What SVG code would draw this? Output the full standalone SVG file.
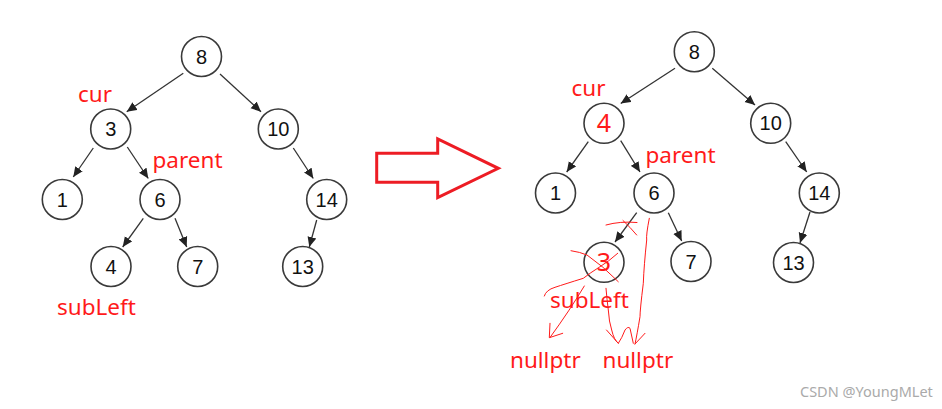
<svg xmlns="http://www.w3.org/2000/svg" width="942" height="409" viewBox="0 0 942 409">
<defs>
<marker id="ah" viewBox="0 0 10 10" refX="10" refY="5" markerWidth="10" markerHeight="10" markerUnits="userSpaceOnUse" orient="auto">
<path d="M0,0.5 L10,5 L0,9.5 z" fill="#222"/>
</marker>
</defs>
<style>
.n circle{fill:#fff;stroke:#3a3a3a;stroke-width:1.6}
.n text{font-family:"Liberation Sans",Arial,sans-serif;font-size:20px;fill:#111;text-anchor:middle}
.n text.r{fill:#ff1a1a;font-family:"Noto Sans",sans-serif;font-size:25px}
.e line{stroke:#333;stroke-width:1.3;marker-end:url(#ah)}
.lbl{font-family:"Noto Sans",sans-serif;font-size:22.5px;fill:#ff1a1a}
.hd{fill:none;stroke:#ff1a1a;stroke-width:1;stroke-linecap:round;stroke-linejoin:round}
</style>
<rect width="942" height="409" fill="#fff"/>
<g id="edges">
<g class="e">
<line x1="183.3" y1="73.3" x2="126.7" y2="111.7"/>
<line x1="220" y1="74" x2="261" y2="111.7"/>
<line x1="93.3" y1="148" x2="73.3" y2="177"/>
<line x1="127.3" y1="147" x2="148.3" y2="178.5"/>
<line x1="293.3" y1="148" x2="313.3" y2="178.5"/>
<line x1="143.3" y1="218.3" x2="122.7" y2="247"/>
<line x1="175" y1="218.3" x2="186.7" y2="247"/>
<line x1="316.7" y1="220" x2="309.3" y2="247"/>
<line x1="675" y1="68.3" x2="620.7" y2="103.5"/>
<line x1="712.3" y1="68.3" x2="755" y2="105"/>
<line x1="588.3" y1="141.7" x2="566.7" y2="172"/>
<line x1="620.7" y1="140.7" x2="640" y2="172"/>
<line x1="785.7" y1="141.7" x2="806.7" y2="172"/>
<line x1="636.7" y1="212.7" x2="615" y2="242"/>
<line x1="668.3" y1="212.7" x2="681.7" y2="241"/>
<line x1="810" y1="212" x2="800" y2="243"/>
</g>
</g>
<g id="n8" class="n"><circle cx="201.5" cy="56.5" r="20"/><text x="201.5" y="63.5">8</text></g>
<g id="n3" class="n"><circle cx="110.7" cy="129" r="20"/><text x="110.7" y="136">3</text></g>
<g id="n10" class="n"><circle cx="278.3" cy="129" r="20"/><text x="278.3" y="136">10</text></g>
<g id="n1" class="n"><circle cx="62.3" cy="199.5" r="20"/><text x="62.3" y="206.5">1</text></g>
<g id="n6" class="n"><circle cx="160" cy="199.5" r="20"/><text x="160" y="206.5">6</text></g>
<g id="n14" class="n"><circle cx="326.7" cy="199.5" r="20"/><text x="326.7" y="206.5">14</text></g>
<g id="n4" class="n"><circle cx="111" cy="266.5" r="20"/><text x="111" y="273.5">4</text></g>
<g id="n7" class="n"><circle cx="197.7" cy="266.5" r="20"/><text x="197.7" y="273.5">7</text></g>
<g id="n13" class="n"><circle cx="302.7" cy="266.5" r="20"/><text x="302.7" y="273.5">13</text></g>
<g id="r8" class="n"><circle cx="694.3" cy="51.7" r="20"/><text x="694.3" y="58.7">8</text></g>
<g id="r4" class="n"><circle cx="604" cy="123.3" r="20"/><text class="r" x="604" y="132">4</text></g>
<g id="r10" class="n"><circle cx="770.7" cy="123.3" r="20"/><text x="770.7" y="130.3">10</text></g>
<g id="r1" class="n"><circle cx="555.5" cy="193" r="20"/><text x="555.5" y="200">1</text></g>
<g id="r6" class="n"><circle cx="654" cy="193" r="20"/><text x="654" y="200">6</text></g>
<g id="r14" class="n"><circle cx="819.3" cy="193" r="20"/><text x="819.3" y="200">14</text></g>
<g id="r3" class="n"><circle cx="604" cy="262.3" r="20"/><text class="r" x="604" y="271">3</text></g>
<g id="r7" class="n"><circle cx="691" cy="261.5" r="20"/><text x="691" y="268.5">7</text></g>
<g id="r13" class="n"><circle cx="793.5" cy="262.5" r="20"/><text x="793.5" y="269.5">13</text></g>
<g id="labels">
<text class="lbl" x="78" y="101.5">cur</text>
<text class="lbl" x="152.5" y="168">parent</text>
<text class="lbl" x="57" y="315">subLeft</text>
<text class="lbl" x="571.5" y="96">cur</text>
<text class="lbl" x="645.5" y="162.5">parent</text>
<text class="lbl" x="550" y="308">subLeft</text>
<text class="lbl" x="510" y="368">nullptr</text>
<text class="lbl" x="602.5" y="368">nullptr</text>
</g>
<g id="scribbles">
<path class="hd" d="M606,225 Q620,221 637,222.5"/>
<path class="hd" d="M623,220.5 Q630,227 636.7,235"/>
<path class="hd" d="M571,250.7 Q580,252 587,255 Q603,266 618.3,281.7"/>
<path class="hd" d="M617.7,253.3 Q608,262 600,266.7 Q590,273 583.3,278.3 Q565,284 555,287.3 Q546,290 544.3,296"/>
<path class="hd" d="M584.3,286 Q570,310 550,337.5 M550,323.3 L549.3,337.7 L562.7,333.3"/>
<path class="hd" d="M606,288.3 Q607,300 608.3,310 Q609,322 611.7,330 Q614,340 618.3,343.3 Q622,338 625,330 Q628,326 630,328.3 L633.3,343.3 M606.5,330 L618.3,343.3"/>
<path class="hd" d="M649.3,218.3 Q646,235 646.7,240 Q644,265 643.3,283.3 Q640,310 640,316.7 Q637,335 635,344 M645,333.3 L635,344"/>
</g>
<g id="bigarrow">
<path d="M376.7,153.3 H437.7 V139 L498.3,168.3 L437.7,197.7 V182.3 H376.7 Z" fill="none" stroke="#ed1c24" stroke-width="3"/>
</g>
<text x="800" y="397" font-family="&quot;Noto Sans&quot;,sans-serif" font-size="14.5" fill="#aaa">CSDN @YoungMLet</text>
</svg>
